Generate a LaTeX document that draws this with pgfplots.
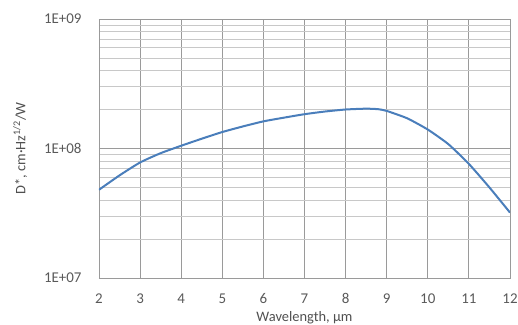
\documentclass[border=0pt]{standalone}
\usepackage{pgfplots}
\pgfplotsset{compat=1.18}
\usepackage{fontspec}
\setmainfont{Carlito}
\definecolor{lineblue}{HTML}{4A7EBB}
\definecolor{txt}{HTML}{595959}
\definecolor{majgrid}{HTML}{9A9A9A}
\definecolor{mingrid}{HTML}{C8C8C8}
\begin{document}
\begin{tikzpicture}
\begin{axis}[
  scale only axis,
  width=411bp, height=259bp,
  ymode=log,
  xmin=2, xmax=12,
  ymin=1e7, ymax=1e9,
  xtick={2,3,...,12},
  ytick={1e7,1e8,1e9},
  yticklabels={1E+07,1E+08,1E+09},
  major tick length=0pt, minor tick length=0pt,
  grid=both,
  major grid style={majgrid, line width=0.9bp},
  minor grid style={mingrid, line width=0.8bp},
  axis line style={majgrid, line width=0.9bp},
  tick label style={font=\fontsize{15}{17}\selectfont, text=txt},
  /pgf/number format/assume math mode=true,
  xticklabel style={yshift=-12bp},
  yticklabel style={xshift=-14bp},
  xlabel={Wavelength, µm},
  ylabel={D*, cm·Hz\textsuperscript{1/2}/W},
  label style={font=\fontsize{14.5}{16}\selectfont, text=txt!90!black},
  xlabel style={yshift=-0.5bp},
  ylabel style={yshift=10bp},
]
\addplot[lineblue, line width=2bp, smooth, tension=0.35] coordinates {
(2,4.8e7) (2.5,6.2e7) (3,7.8e7) (3.5,9.2e7) (4,1.05e8) (4.5,1.19e8) (5,1.34e8)
(5.5,1.48e8) (6,1.62e8) (6.5,1.73e8) (7,1.84e8) (7.5,1.93e8) (8,2.0e8)
(8.5,2.03e8) (8.8,2.01e8) (9,1.95e8) (9.5,1.71e8) (10,1.40e8) (10.5,1.08e8)
(11,7.6e7) (11.5,5.0e7) (12,3.2e7)
};
\end{axis}
\pgfresetboundingbox
\path ([shift={(-99bp,-47bp)}]current axis.south west) rectangle ([shift={(8bp,19bp)}]current axis.north east);
\end{tikzpicture}
\end{document}
